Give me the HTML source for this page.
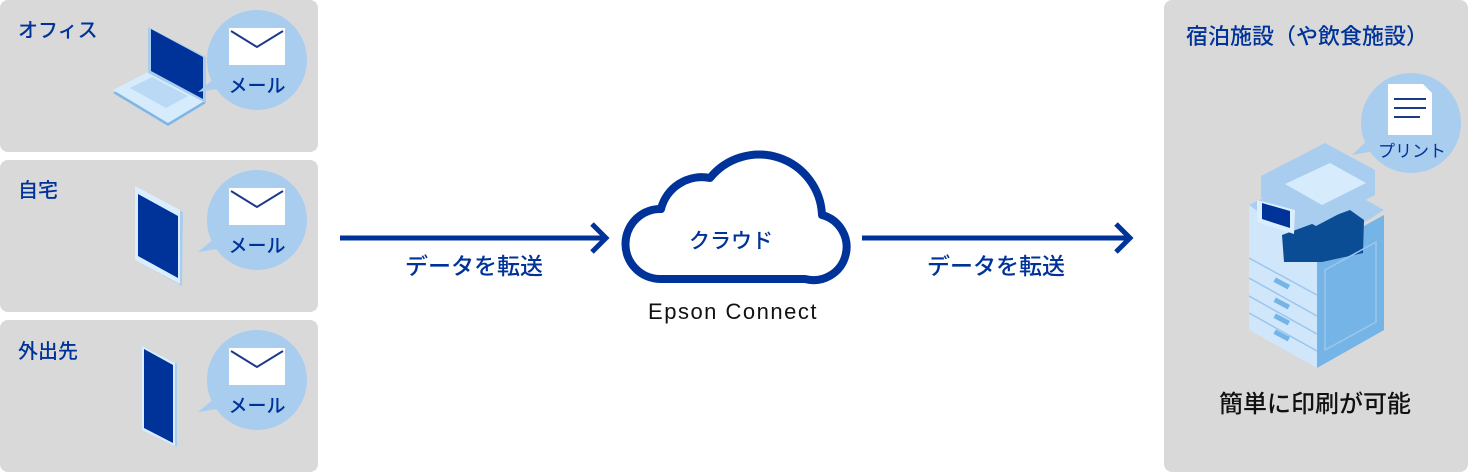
<!DOCTYPE html>
<html><head><meta charset="utf-8"><style>
html,body{margin:0;padding:0;background:#fff;}
svg{display:block;}
text{font-family:"Liberation Sans","Noto Sans CJK JP",sans-serif;}
</style></head><body>
<svg width="1468" height="472" viewBox="0 0 1468 472" xmlns="http://www.w3.org/2000/svg">
<rect x="0" y="0" width="318" height="152" rx="8" fill="#d9d9d9"/>
<rect x="0" y="160" width="318" height="152" rx="8" fill="#d9d9d9"/>
<rect x="0" y="320" width="318" height="152" rx="8" fill="#d9d9d9"/>
<rect x="1164" y="0" width="304" height="472" rx="8" fill="#d9d9d9"/>

<g font-size="20" font-weight="500" fill="#003399">
<text x="18" y="37">オフィス</text>
<text x="18" y="197">自宅</text>
<text x="18" y="358">外出先</text>
</g>

<!-- laptop -->
<polygon points="113,93 150,74 206,103 168,126" fill="#7fb6e6"/>
<polygon points="113,90 150,71 206,100 168,123" fill="#d6ecfd"/>
<polygon points="130,88 152,77 188,96 166,108" fill="#b9d9f5"/>
<polygon points="148,27 206,57 206,103 148,73" fill="#a9cdef"/>
<polygon points="151,29 203,57 203,99 151,71" fill="#003399"/>

<!-- tablet -->
<polygon points="135,186 183,212 182,286 135,260" fill="#a9cdef"/>
<polygon points="135,186 180,210 180,284 135,260" fill="#dbeeff"/>
<polygon points="138,194 178,216 178,278 138,256" fill="#003399"/>

<!-- phone -->
<polygon points="142,346 177,364 177,447 142,430" fill="#a9cdef"/>
<polygon points="142,346 175,363 175,446 142,430" fill="#dbeeff"/>
<polygon points="144,349 173,365 173,443 144,428" fill="#003399"/>

<g id="b">
<circle cx="257" cy="60" r="50" fill="#a9cdef"/>
<polygon points="215,78 198,92 224,88" fill="#a9cdef"/>
<rect x="229" y="28" width="56" height="37" fill="#fff"/>
<polyline points="231,31 257,47 283,31" fill="none" stroke="#1a3a8a" stroke-width="2"/>
<text x="257" y="92" font-size="19" text-anchor="middle" fill="#003399" font-weight="500">メール</text>
</g>
<use href="#b" y="160"/>
<use href="#b" y="320"/>

<g stroke="#003399" stroke-width="5" fill="none">
<line x1="340" y1="238" x2="606" y2="238"/>
<polyline points="592,224 606,238 592,252"/>
<line x1="862" y1="238" x2="1130" y2="238"/>
<polyline points="1116,224 1130,238 1116,252"/>
</g>
<g font-size="23" fill="#003399" text-anchor="middle" font-weight="500">
<text x="474" y="274">データを転送</text>
<text x="996" y="274">データを転送</text>
</g>

<path d="M660,279 A34,34 0 0 1 661,209 A42,42 0 0 1 710,178 A63,63 0 0 1 822,215 A33,33 0 0 1 805,279 Z" fill="#fff" stroke="#003399" stroke-width="8" stroke-linejoin="round"/>
<text x="731" y="248" font-size="21" fill="#003399" text-anchor="middle" font-weight="500">クラウド</text>
<text x="733" y="319" font-size="22" fill="#111" text-anchor="middle" letter-spacing="1.5" font-weight="500">Epson Connect</text>

<text x="1186" y="44" font-size="22" font-weight="500" fill="#003399">宿泊施設（や飲食施設）</text>
<circle cx="1411" cy="123" r="50" fill="#a9cdef"/>
<polygon points="1370,138 1352,155 1380,150" fill="#a9cdef"/>
<polygon points="1388,84 1423,84 1432,93 1432,135 1388,135" fill="#fff"/>
<g stroke="#1a3a8a" stroke-width="2"><line x1="1394" y1="99" x2="1426" y2="99"/><line x1="1394" y1="108" x2="1426" y2="108"/><line x1="1394" y1="117" x2="1420" y2="117"/></g>
<text x="1412" y="157" font-size="17" fill="#003399" text-anchor="middle">プリント</text>

<polygon points="1249,205 1317,252 1317,368 1249,330" fill="#cfe6fb"/>
<polygon points="1317,252 1384,215 1384,330 1317,368" fill="#74b4e6"/>
<polygon points="1249,205 1316,172 1384,210 1317,252" fill="#a9cdef"/>
<polygon points="1282,235 1350,210 1364,220 1363,253 1322,262 1284,262" fill="#0a4d94"/>
<polygon points="1261,176 1325,143 1375,170 1375,195 1316,226 1261,197" fill="#a9cdef"/>
<polygon points="1285,184 1330,163 1366,183 1322,205" fill="#d6ecfd"/>
<polygon points="1257,200 1295,210 1294,234 1257,222" fill="#dbeeff"/>
<polygon points="1262,203 1290,211 1290,228 1262,219" fill="#003399"/>
<g stroke="#9cc6ec" stroke-width="1.5" fill="none">
<line x1="1249" y1="258" x2="1317" y2="295"/>
<line x1="1249" y1="278" x2="1317" y2="316"/>
<line x1="1249" y1="296" x2="1317" y2="334"/>
<line x1="1249" y1="313" x2="1317" y2="351"/>
<polygon points="1325,270 1376,242 1376,322 1325,350"/>
</g>
<g fill="#74b4e6">
<rect x="1274" y="281" width="16" height="5" transform="rotate(28 1282 283)"/>
<rect x="1274" y="301" width="16" height="5" transform="rotate(28 1282 303)"/>
<rect x="1274" y="317" width="16" height="5" transform="rotate(28 1282 319)"/>
<rect x="1274" y="333" width="16" height="5" transform="rotate(28 1282 335)"/>
</g>
<text x="1315" y="412" font-size="24" font-weight="500" fill="#111" text-anchor="middle">簡単に印刷が可能</text>
</svg>
</body></html>
